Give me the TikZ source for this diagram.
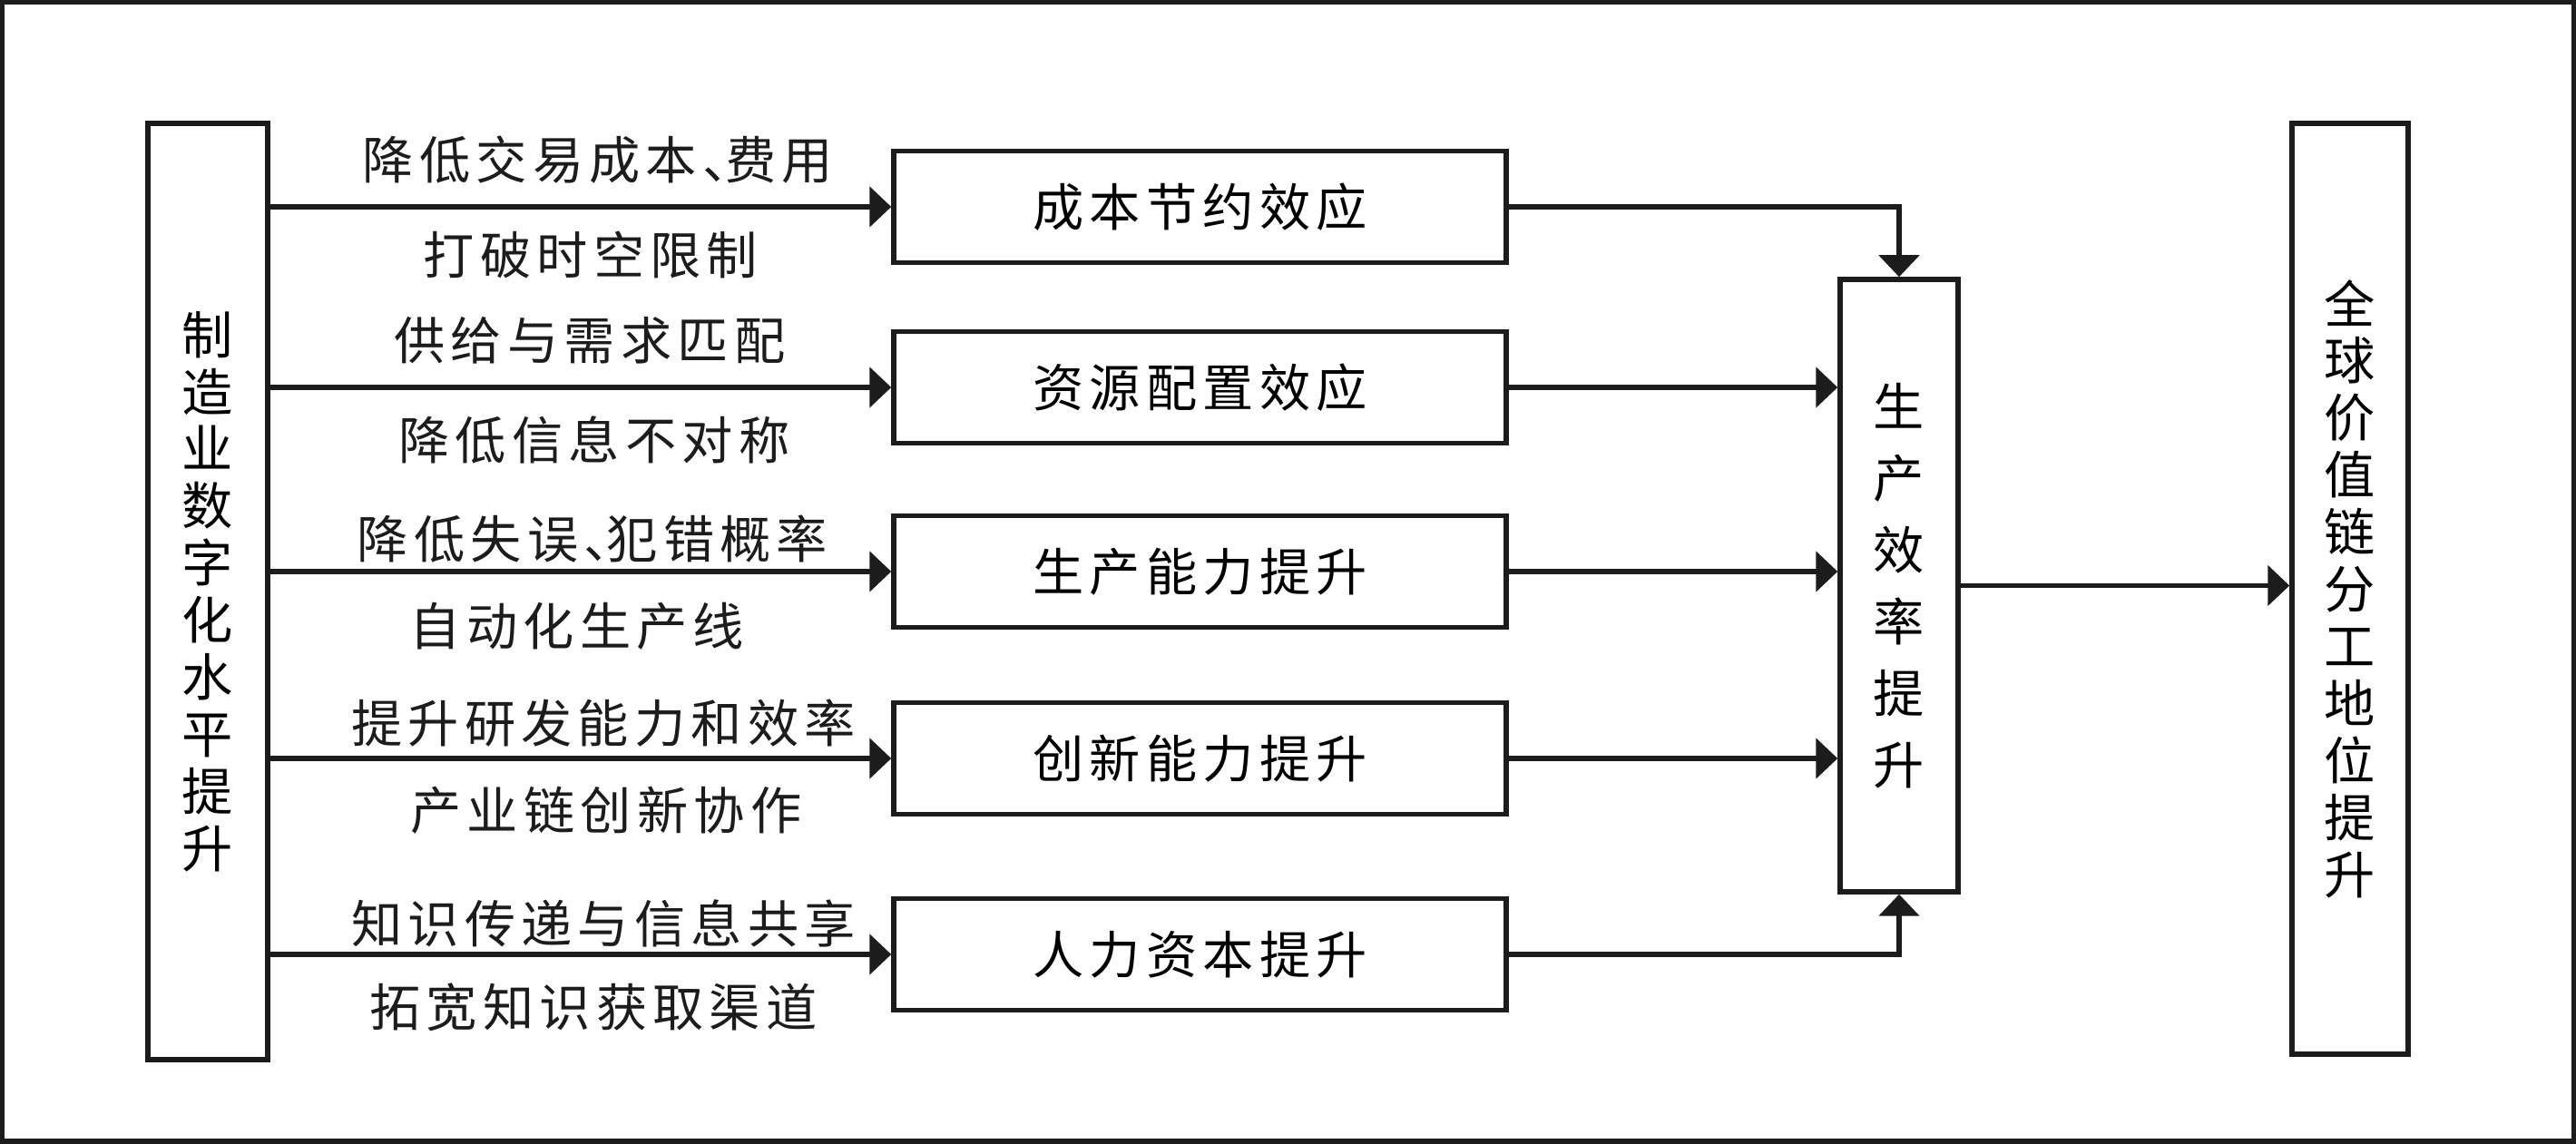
\documentclass[tikz,border=0pt]{standalone}
\usepackage{fontspec}
\newfontfamily\cjk[LetterSpace=11]{Noto Sans CJK SC}
\newfontfamily\cjkv{Noto Sans CJK SC}
\usetikzlibrary{arrows.meta}
\definecolor{ink}{HTML}{1C1C1C}
\newcommand{\dun}{、\kern-0.55em}
\begin{document}
\begin{tikzpicture}[x=1cm,y=1cm,
  box/.style={draw=ink, line width=0.055cm, inner sep=0pt, rectangle},
  hbox/.style={box, minimum width=6.75cm, minimum height=1.23cm, font=\cjk\fontsize{16}{19}\selectfont},
  vbox/.style={box, align=center, font=\cjkv\fontsize{16}{17.9}\selectfont},
  lbl/.style={font=\cjk\fontsize{16}{19}\selectfont, inner sep=0pt, text=ink},
  arr/.style={draw=ink, line width=0.055cm, -{Triangle[length=0.24cm,width=0.44cm]}},
]
\useasboundingbox (0,0) rectangle (28.39,12.61);
\draw[ink, line width=0.055cm] (0.0275,0.0275) rectangle (28.3625,12.5825);

\node[vbox, minimum width=1.32cm, minimum height=10.32cm] (src) at (2.29,6.09) {制\\造\\业\\数\\字\\化\\水\\平\\提\\升};

\node[hbox] (b1) at (13.225,10.33) {成本节约效应};
\node[hbox] (b2) at (13.225,8.34) {资源配置效应};
\node[hbox] (b3) at (13.225,6.31) {生产能力提升};
\node[hbox] (b4) at (13.225,4.25) {创新能力提升};
\node[hbox] (b5) at (13.225,2.09) {人力资本提升};

\node[vbox, minimum width=1.30cm, minimum height=6.75cm, font=\cjkv\fontsize{16}{22.5}\selectfont] (pe) at (20.93,6.155) {生\\产\\效\\率\\提\\升};

\node[vbox, minimum width=1.28cm, minimum height=10.26cm] (gv) at (25.90,6.12) {全\\球\\价\\值\\链\\分\\工\\地\\位\\提\\升};

\foreach \b in {b1,b2,b3,b4,b5}{
  \draw[arr] (src.east |- \b.west) -- (\b.west);
}
\draw[arr] (b1.east) -| (pe.north);
\draw[arr] (b5.east) -| (pe.south);
\draw[arr] (b2.east) -- (b2.east -| pe.west);
\draw[arr] (b3.east) -- (b3.east -| pe.west);
\draw[arr] (b4.east) -- (b4.east -| pe.west);
\draw[arr] (pe.east) -- (pe.east -| gv.west);

\node[lbl] (l1a) at (6.59,10.85) {降低交易成本\dun 费用};
\node[lbl] (l1b) at (6.51,9.80) {打破时空限制};
\node[lbl] (l2a) at (6.50,8.86) {供给与需求匹配};
\node[lbl] (l2b) at (6.55,7.76) {降低信息不对称};
\node[lbl] (l3a) at (6.53,6.67) {降低失误\dun 犯错概率};
\node[lbl] (l3b) at (6.36,5.71) {自动化生产线};
\node[lbl] (l4a) at (6.65,4.64) {提升研发能力和效率};
\node[lbl] (l4b) at (6.68,3.68) {产业链创新协作};
\node[lbl] (l5a) at (6.65,2.43) {知识传递与信息共享};
\node[lbl] (l5b) at (6.54,1.51) {拓宽知识获取渠道};
\end{tikzpicture}
\end{document}
